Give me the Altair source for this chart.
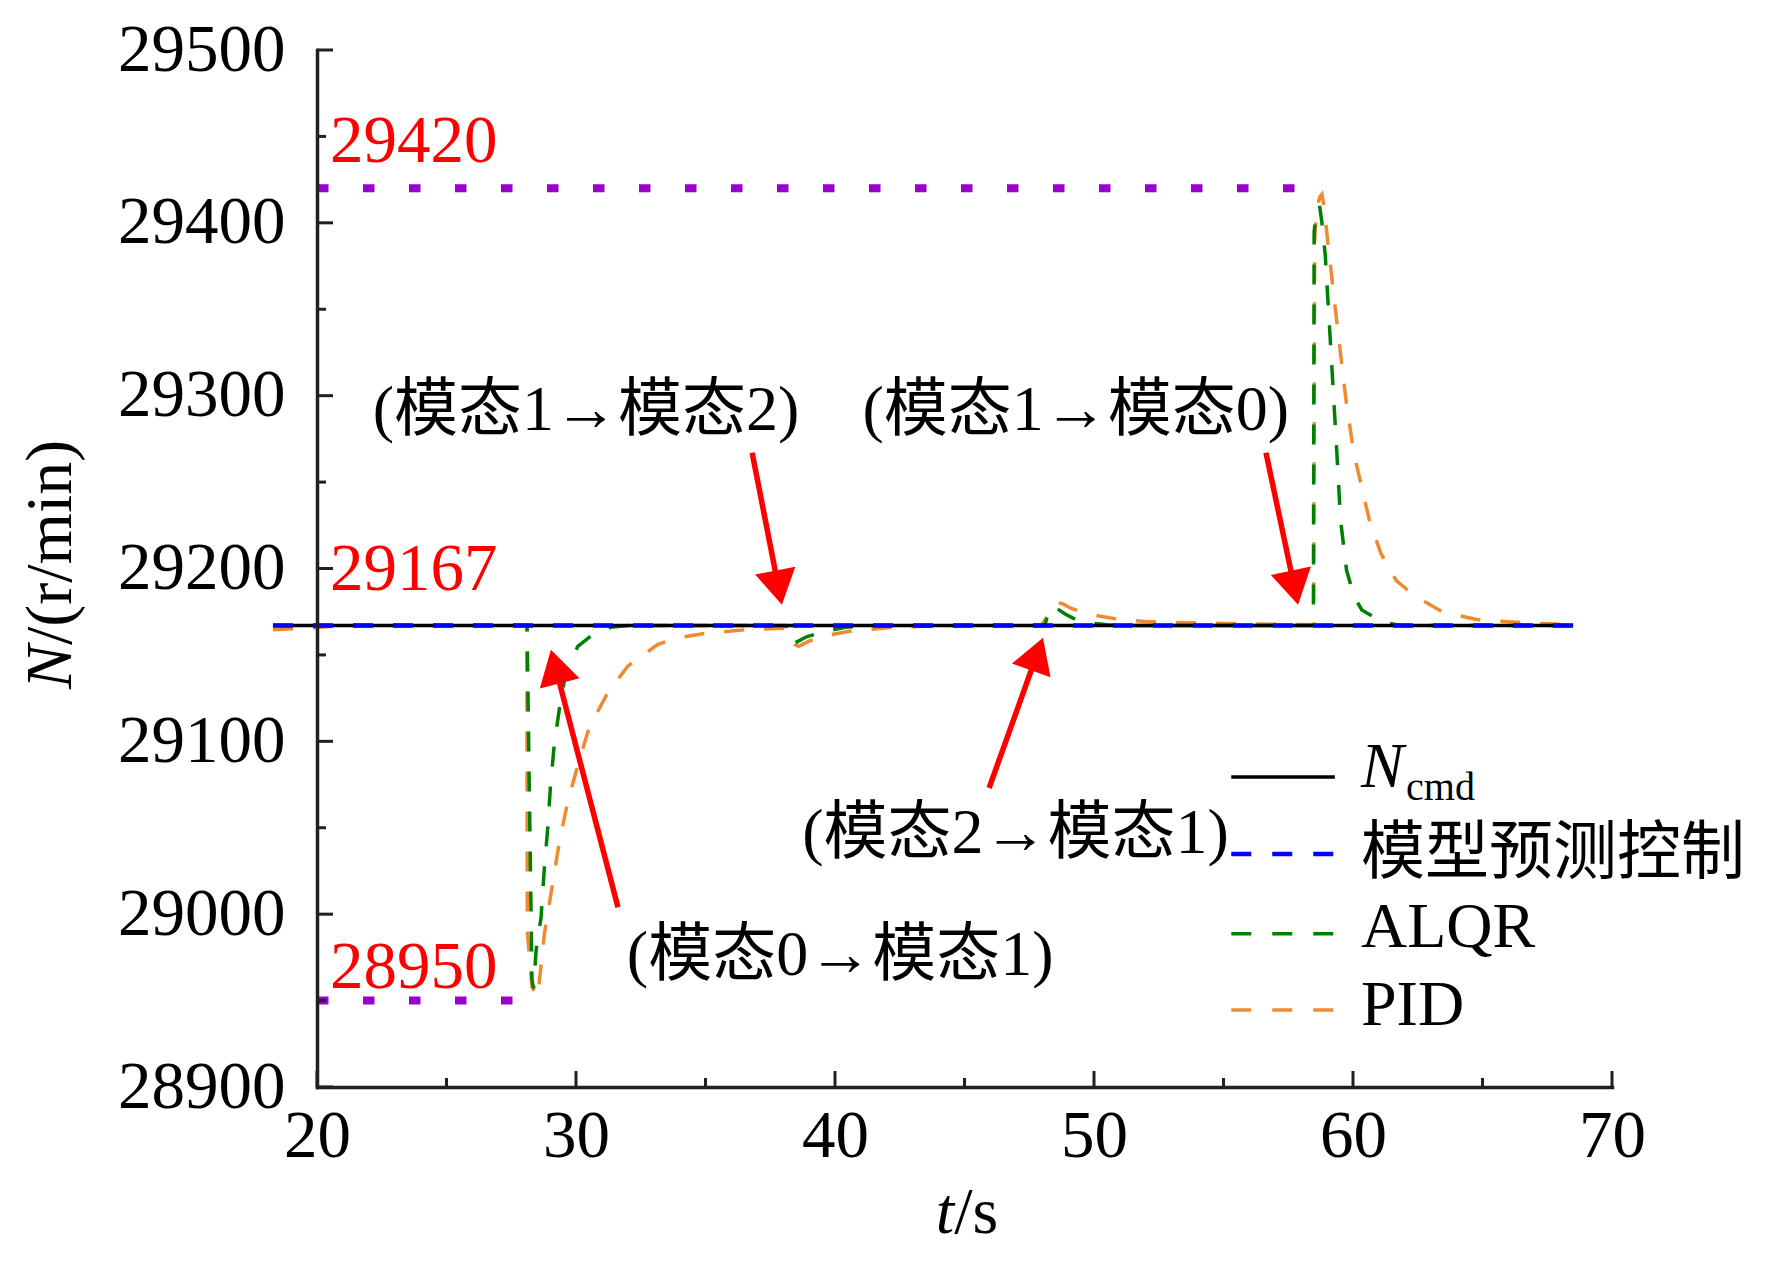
import math
import altair as alt
import pandas as pd

# ---------------- layout / style ----------------
W, H = 1295, 1037
X_DOMAIN = [20, 70]
Y_DOMAIN = [28900, 29500]
SX = W / (X_DOMAIN[1] - X_DOMAIN[0])
SY = H / (Y_DOMAIN[1] - Y_DOMAIN[0])

SERIF = "Liberation Serif"
MIXED = "Liberation Serif, Noto Sans CJK SC"
AXIS_COLOR = "#231f20"
C_BLACK = "#000000"
C_BLUE = "#0000ff"
C_GREEN = "#008000"
C_ORANGE = "#f08a30"
C_PURPLE = "#9900cc"
C_RED = "#ff0000"
DASH = [20, 20]

# ---------------- data ----------------
NCMD_T = [18.3, 68.5]
NCMD_V = [29167, 29167]

MPC_T = [18.3, 68.5]
MPC_V = [29167, 29167]

ALQR_T = [18.3, 28.11, 28.30, 28.36, 28.46, 28.65, 28.78, 28.91, 29.01, 29.16, 29.36, 29.61,
          30.07, 30.58, 31.35, 32.0, 38.1, 38.3, 38.4, 38.9, 39.6, 40.4, 41.2, 48.1, 48.3,
          48.5, 48.9, 49.3, 49.8, 50.5, 51.5, 58.47, 58.50, 58.60, 58.71, 58.8, 58.93, 59.08,
          59.23, 59.38, 59.52, 59.75, 60.04, 60.34, 61.07, 61.8, 68.5]
ALQR_V = [29167, 29167, 28962, 28957, 28979, 28998, 29027, 29050, 29073, 29098, 29119, 29140,
          29155, 29161, 29166, 29167, 29167, 29157.5, 29156.5, 29160.5, 29163.5, 29166, 29167,
          29167, 29178, 29177.5, 29173.5, 29170.5, 29168.5, 29167.5, 29167, 29167, 29395,
          29407, 29410, 29400, 29381, 29343, 29305, 29266, 29228, 29199, 29184, 29176,
          29169.5, 29167, 29167]

PID_T = [18.3, 19.6, 21.0, 28.10, 28.12, 28.30, 28.52, 28.78, 29.03, 29.36, 29.68, 30.07,
         30.51, 31.22, 32.0, 33.15, 33.8, 35.0, 36.5, 38.1, 38.45, 38.6, 39.0, 39.6, 40.5,
         42.0, 43.5, 45.0, 47.95, 48.2, 48.55, 48.8, 49.1, 49.6, 50.2, 51.0, 52.0, 53.5,
         55.0, 56.5, 58.48, 58.52, 58.6, 58.72, 58.8, 58.9, 59.01, 59.23, 59.45, 59.75,
         60.04, 60.34, 60.63, 61.07, 61.67, 62.4, 63.44, 64.77, 66.69, 68.5]
PID_V = [29164.5, 29165.5, 29167, 29167, 28990, 28958, 28952, 28988.5, 29011.5, 29042,
         29065, 29086, 29108, 29128, 29143.5, 29156, 29159.5, 29162.5, 29164.5, 29165.5,
         29156, 29155, 29158, 29161, 29163.5, 29165.7, 29166.6, 29167, 29167, 29172,
         29180.5, 29179.5, 29177, 29174.5, 29172.5, 29170.5, 29169.3, 29168.6, 29168.2,
         29167.8, 29167.5, 29390, 29408, 29415, 29416.5, 29408, 29391, 29362, 29333,
         29295, 29266, 29247, 29228, 29209, 29193, 29184, 29175, 29170.5, 29168.5, 29167.5]

REF_HI_T = [20, 58.5]
REF_HI_V = [29420, 29420]
REF_LO_T = [20, 28.11]
REF_LO_V = [28950, 28950]

VAL_LABELS = ["29420", "29167", "28950"]
VAL_LABEL_T = [20.5, 20.5, 20.5]
VAL_LABEL_V = [29435.0, 29187.5, 28957.3]

ANN_TEXT = ["(模态1→模态2)", "(模态1→模态0)", "(模态0→模态1)", "(模态2→模态1)"]
ANN_T = [30.39, 49.30, 40.2, 46.97]
ANN_V = [29280.0, 29280.0, 28964.8, 29035.4]

ARROW_T0 = [36.80, 56.64, 31.62, 45.95]
ARROW_V0 = [29267.0, 29267.0, 29004.0, 29073.0]
ARROW_T1 = [37.95, 57.88, 29.03, 48.03]
ARROW_V1 = [29179.0, 29179.0, 29153.0, 29160.0]

X_TICKS_MAJOR = [20, 30, 40, 50, 60, 70]
X_TICKS_MINOR = [25, 35, 45, 55, 65]
Y_TICKS_MAJOR = [28900, 29000, 29100, 29200, 29300, 29400, 29500]
Y_TICKS_MINOR = [28950, 29050, 29150, 29250, 29350, 29450]

LEG_T0, LEG_T1 = 55.3, 59.3
LEG_ROW_V = [29079.4, 29034.8, 28988.6, 28944.6]
LEG_TEXT_T = 60.31
LEG_LABELS = ["N", "模型预测控制", "ALQR", "PID"]
LEG_LABEL_V = [29073.6, 29023.8, 28981.0, 28935.9]
LEG_SUB = "cmd"
LEG_SUB_T = 62.05
LEG_SUB_V = 29066.1

YTITLE_T = 10.5
YTITLE_V = 29155.7
XTITLE_T = 44.6
XTITLE_V = 28815.5

# ---------------- encodings ----------------
x_scale = alt.Scale(domain=X_DOMAIN, nice=False, zero=False)
y_scale = alt.Scale(domain=Y_DOMAIN, nice=False, zero=False)

ax_common = dict(ticks=False, tickSize=0, domainColor=AXIS_COLOR, domainWidth=3.5,
                 domainCap="square", labelFont=SERIF, labelFontSize=67, labelColor="black",
                 labelOverlap=False, labelFlush=False, labelBound=False, grid=False,
                 title=None, format="d", zindex=1)
ax_x = alt.Axis(values=X_TICKS_MAJOR, labelPadding=16, **ax_common)
ax_y = alt.Axis(values=Y_TICKS_MAJOR, labelPadding=32, **ax_common)


def X(field="t"):
    return alt.X(f"{field}:Q", scale=x_scale, axis=ax_x)


def Y(field="v"):
    return alt.Y(f"{field}:Q", scale=y_scale, axis=ax_y)


def line_layer(ts, vs, color, width, dash=None):
    df = pd.DataFrame({"t": ts, "v": vs, "i": list(range(len(ts)))})
    kw = dict(color=color, strokeWidth=width, strokeCap="butt", clip=False)
    if dash:
        kw["strokeDash"] = dash
    return alt.Chart(df).mark_line(**kw).encode(x=X(), y=Y(), order=alt.Order("i:Q"))


def text_layer(texts, ts, vs, **mk):
    df = pd.DataFrame({"t": ts, "v": vs, "label": texts})
    return alt.Chart(df).mark_text(**mk).encode(x=X(), y=Y(), text="label:N")


layers = []

# reference dotted lines
layers.append(line_layer(REF_HI_T, REF_HI_V, C_PURPLE, 8, [11.5, 34.5]))
layers.append(line_layer(REF_LO_T, REF_LO_V, C_PURPLE, 8, [11.5, 34.5]))
# series
layers.append(line_layer(PID_T, PID_V, C_ORANGE, 3.5, DASH))
layers.append(line_layer(ALQR_T, ALQR_V, C_GREEN, 3.5, DASH))
layers.append(line_layer(NCMD_T, NCMD_V, C_BLACK, 3.6))
layers.append(line_layer(MPC_T, MPC_V, C_BLUE, 4.5, DASH))

# inward ticks
for vals, ln in ((X_TICKS_MAJOR, 16), (X_TICKS_MINOR, 9)):
    layers.append(alt.Chart(pd.DataFrame({"t": vals})).mark_rule(
        color=AXIS_COLOR, strokeWidth=3).encode(x=X(), y=alt.value(H), y2=alt.value(H - ln)))
for vals, ln in ((Y_TICKS_MAJOR, 16), (Y_TICKS_MINOR, 9)):
    layers.append(alt.Chart(pd.DataFrame({"v": vals})).mark_rule(
        color=AXIS_COLOR, strokeWidth=3).encode(y=Y(), x=alt.value(0), x2=alt.value(ln)))

# red value labels
layers.append(text_layer(VAL_LABELS, VAL_LABEL_T, VAL_LABEL_V, align="left",
                         baseline="alphabetic", font=SERIF, fontSize=67, color=C_RED))

# annotation texts
layers.append(text_layer(ANN_TEXT, ANN_T, ANN_V, align="center", baseline="alphabetic",
                         font=MIXED, fontSize=64, color="black"))

# arrows
HEAD_LEN = 35.0
ang, st2, sv2 = [], [], []
for t0, v0, t1, v1 in zip(ARROW_T0, ARROW_V0, ARROW_T1, ARROW_V1):
    dx = (t1 - t0) * SX
    dy = -(v1 - v0) * SY
    ln = math.hypot(dx, dy)
    ux, uy = dx / ln, dy / ln
    a = math.degrees(math.atan2(dx, -dy)) % 360
    ang.append(a)
    back = HEAD_LEN * 0.55
    st2.append(t1 - back * ux / SX)
    sv2.append(v1 + back * uy / SY)

arrow_df = pd.DataFrame({"t": ARROW_T0, "v": ARROW_V0, "t2": st2, "v2": sv2})
layers.append(alt.Chart(arrow_df).mark_rule(color=C_RED, strokeWidth=5.5, strokeCap="butt").encode(
    x=X(), y=Y(), x2=alt.X2("t2:Q"), y2=alt.Y2("v2:Q")))
head_df = pd.DataFrame({"t": ARROW_T1, "v": ARROW_V1, "angle": ang})
layers.append(alt.Chart(head_df).mark_point(
    shape="M0,0L-0.5,0.85L0.5,0.85Z", size=6724, filled=True, color=C_RED, opacity=1,
    strokeWidth=0).encode(x=X(), y=Y(), angle=alt.Angle("angle:Q", scale=None)))

# manual legend
leg_styles = [(C_BLACK, 3.6, None), (C_BLUE, 4.5, [20, 21]), (C_GREEN, 3.5, [20, 21]),
              (C_ORANGE, 3.5, [20, 21])]
for (col, wd, dsh), rv in zip(leg_styles, LEG_ROW_V):
    df = pd.DataFrame({"t": [LEG_T0], "v": [rv], "t2": [LEG_T1]})
    kw = dict(color=col, strokeWidth=wd, strokeCap="butt")
    if dsh:
        kw["strokeDash"] = dsh
    layers.append(alt.Chart(df).mark_rule(**kw).encode(x=X(), y=Y(), x2=alt.X2("t2:Q")))

layers.append(text_layer(LEG_LABELS[:1], [LEG_TEXT_T], LEG_LABEL_V[:1], align="left",
                         baseline="alphabetic", font=SERIF, fontSize=64, fontStyle="italic",
                         color="black"))
layers.append(text_layer([LEG_SUB], [LEG_SUB_T], [LEG_SUB_V], align="left",
                         baseline="alphabetic", font=SERIF, fontSize=40, color="black"))
layers.append(text_layer(LEG_LABELS[1:], [LEG_TEXT_T] * 3, LEG_LABEL_V[1:], align="left",
                         baseline="alphabetic", font=MIXED, fontSize=64, color="black"))

# axis titles (mixed italic / upright)
layers.append(text_layer(["N"], [YTITLE_T], [YTITLE_V], align="right", baseline="alphabetic",
                         angle=270, font=SERIF, fontSize=66, fontStyle="italic", color="black"))
layers.append(text_layer(["/(r/min)"], [YTITLE_T], [YTITLE_V], align="left",
                         baseline="alphabetic", angle=270, font=SERIF, fontSize=66,
                         color="black"))
layers.append(text_layer(["t"], [XTITLE_T], [XTITLE_V], align="right", baseline="alphabetic",
                         font=SERIF, fontSize=66, fontStyle="italic", color="black"))
layers.append(text_layer(["/s"], [XTITLE_T], [XTITLE_V], align="left", baseline="alphabetic",
                         font=SERIF, fontSize=66, color="black"))

chart = alt.layer(*layers).properties(
    width=W, height=H,
    autosize=alt.AutoSizeParams(type="none"),
    padding={"left": 309, "top": 42, "right": 150, "bottom": 167},
    background="white",
).configure_view(stroke=None)

chart.save("out.html", embed_options={"renderer": "svg", "actions": False})
